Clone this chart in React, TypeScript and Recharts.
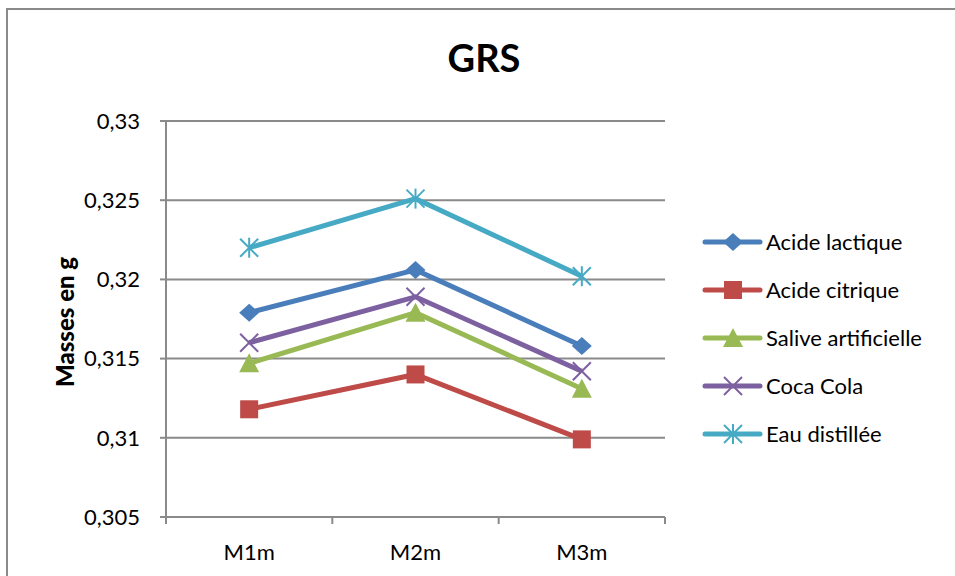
import React from 'react';
import { LineChart, Line, XAxis, YAxis, CartesianGrid, Customized } from 'recharts';

const categories = ['M1m', 'M2m', 'M3m'];
const acideLactique = [0.3179, 0.3206, 0.3158];
const acideCitrique = [0.3118, 0.314, 0.3099];
const saliveArtificielle = [0.3147, 0.3179, 0.3131];
const cocaCola = [0.316, 0.3189, 0.3142];
const eauDistillee = [0.322, 0.3251, 0.3202];
const yTicks = [0.305, 0.31, 0.315, 0.32, 0.325, 0.33];

const series = [
  { key: 'lactique', name: 'Acide lactique', values: acideLactique, color: '#4A7EBB', marker: 'diamond' },
  { key: 'citrique', name: 'Acide citrique', values: acideCitrique, color: '#BE4B48', marker: 'square' },
  { key: 'salive', name: 'Salive artificielle', values: saliveArtificielle, color: '#98B954', marker: 'triangle' },
  { key: 'coca', name: 'Coca Cola', values: cocaCola, color: '#7D60A0', marker: 'x' },
  { key: 'eau', name: 'Eau distillée', values: eauDistillee, color: '#46AAC5', marker: 'star' },
];

const data = categories.map((c, i) => {
  const row: Record<string, string | number> = { name: c };
  series.forEach((s) => (row[s.key] = s.values[i]));
  return row;
});

const FONT = 'Lato, "Open Sans", sans-serif';
const GRID = '#8a8a8a';
const W = 955;
const H = 576;
const X_AXIS_H = 30;
const margin = { top: 121, right: 290, bottom: 59 - X_AXIS_H, left: 66 };
const Y_AXIS_W = 100;
const plotWidth = W - margin.left - margin.right - Y_AXIS_W;
const band = plotWidth / categories.length;

const fmt = (v: number) => String(Number(v.toFixed(3))).replace('.', ',');

function marker(kind: string, cx: number, cy: number, color: string, key?: string) {
  switch (kind) {
    case 'diamond':
      return <polygon key={key} points={`${cx},${cy - 9} ${cx + 10},${cy} ${cx},${cy + 9} ${cx - 10},${cy}`} fill={color} />;
    case 'square':
      return <rect key={key} x={cx - 9} y={cy - 9} width={18} height={18} fill={color} />;
    case 'triangle':
      return <polygon key={key} points={`${cx},${cy - 10} ${cx + 10},${cy + 9} ${cx - 10},${cy + 9}`} fill={color} />;
    case 'x':
      return (
        <g key={key} stroke={color} strokeWidth={2}>
          <line x1={cx - 9} y1={cy - 9} x2={cx + 9} y2={cy + 9} />
          <line x1={cx - 9} y1={cy + 9} x2={cx + 9} y2={cy - 9} />
        </g>
      );
    default:
      return (
        <g key={key} stroke={color} strokeWidth={2}>
          <line x1={cx - 9} y1={cy - 9} x2={cx + 9} y2={cy + 9} />
          <line x1={cx - 9} y1={cy + 9} x2={cx + 9} y2={cy - 9} />
          <line x1={cx} y1={cy - 10} x2={cx} y2={cy + 10} />
        </g>
      );
  }
}

const XTick = (props: any) => {
  const { x, y, payload, index } = props;
  const left = x - band / 2;
  return (
    <g>
      <line x1={left} y1={y} x2={left} y2={y + 7} stroke={GRID} strokeWidth={2} />
      {index === categories.length - 1 && (
        <line x1={x + band / 2} y1={y} x2={x + band / 2} y2={y + 7} stroke={GRID} strokeWidth={2} />
      )}
      <text x={x} y={y + 43} textAnchor="middle" fontFamily={FONT} fontSize={22} fill="#000">
        {payload.value}
      </text>
    </g>
  );
};

const YLabel = (props: any) => {
  const vb = props.viewBox;
  const x = vb.x + 8;
  const y = vb.y + vb.height / 2 + 3;
  return (
    <text x={x} y={y} transform={`rotate(-90 ${x} ${y})`} textAnchor="middle" fontFamily={FONT} fontWeight={900} fontSize={24} fill="#000">
      Masses en g
    </text>
  );
};

// legend drawn in svg so it does not eat into the plot area
const LEGEND_X = 705;
const LEGEND_Y = 242;
const LEGEND_STEP = 48;

const Frame = () => (
  <g>
    <rect x={7} y={9} width={W + 20} height={H + 20} fill="none" stroke={GRID} strokeWidth={2} />
    <text x={484} y={72} textAnchor="middle" fontFamily={FONT} fontWeight="bold" fontSize={38} fill="#000">
      GRS
    </text>
    {series.map((s, i) => {
      const y = LEGEND_Y + i * LEGEND_STEP;
      return (
        <g key={s.key}>
          <line x1={LEGEND_X} y1={y} x2={LEGEND_X + 55} y2={y} stroke={s.color} strokeWidth={5} strokeLinecap="round" />
          {marker(s.marker, LEGEND_X + 28, y, s.color)}
          <text x={LEGEND_X + 61} y={y + 8} fontFamily={FONT} fontSize={22} fill="#000">
            {s.name}
          </text>
        </g>
      );
    })}
  </g>
);

export default function App() {
  return (
    <div style={{ position: 'absolute', left: 0, top: 0, width: W, height: H, background: '#fff' }}>
      <LineChart width={W} height={H} data={data} margin={margin}>
        <Customized component={Frame} />
        <CartesianGrid horizontal vertical={false} stroke={GRID} strokeWidth={2} />
        <XAxis
          dataKey="name"
          scale="band"
          height={X_AXIS_H}
          axisLine={{ stroke: GRID, strokeWidth: 2 }}
          tickLine={false}
          tickSize={0}
          tickMargin={0}
          tick={<XTick />}
          interval={0}
        />
        <YAxis
          width={Y_AXIS_W}
          domain={[0.305, 0.33]}
          ticks={yTicks}
          tickFormatter={fmt}
          axisLine={{ stroke: GRID, strokeWidth: 2 }}
          tickLine={{ stroke: GRID, strokeWidth: 2 }}
          tickSize={6}
          tickMargin={20}
          tick={{ fontFamily: FONT, fontSize: 22, fill: '#000' }}
          label={{ content: <YLabel /> }}
        />
        {series.map((s) => (
          <Line
            key={s.key}
            type="linear"
            dataKey={s.key}
            name={s.name}
            stroke={s.color}
            strokeWidth={5}
            isAnimationActive={false}
            dot={(p: any) => marker(s.marker, p.cx, p.cy, s.color, `${s.key}-${p.index}`)}
            activeDot={false}
          />
        ))}
      </LineChart>
    </div>
  );
}
